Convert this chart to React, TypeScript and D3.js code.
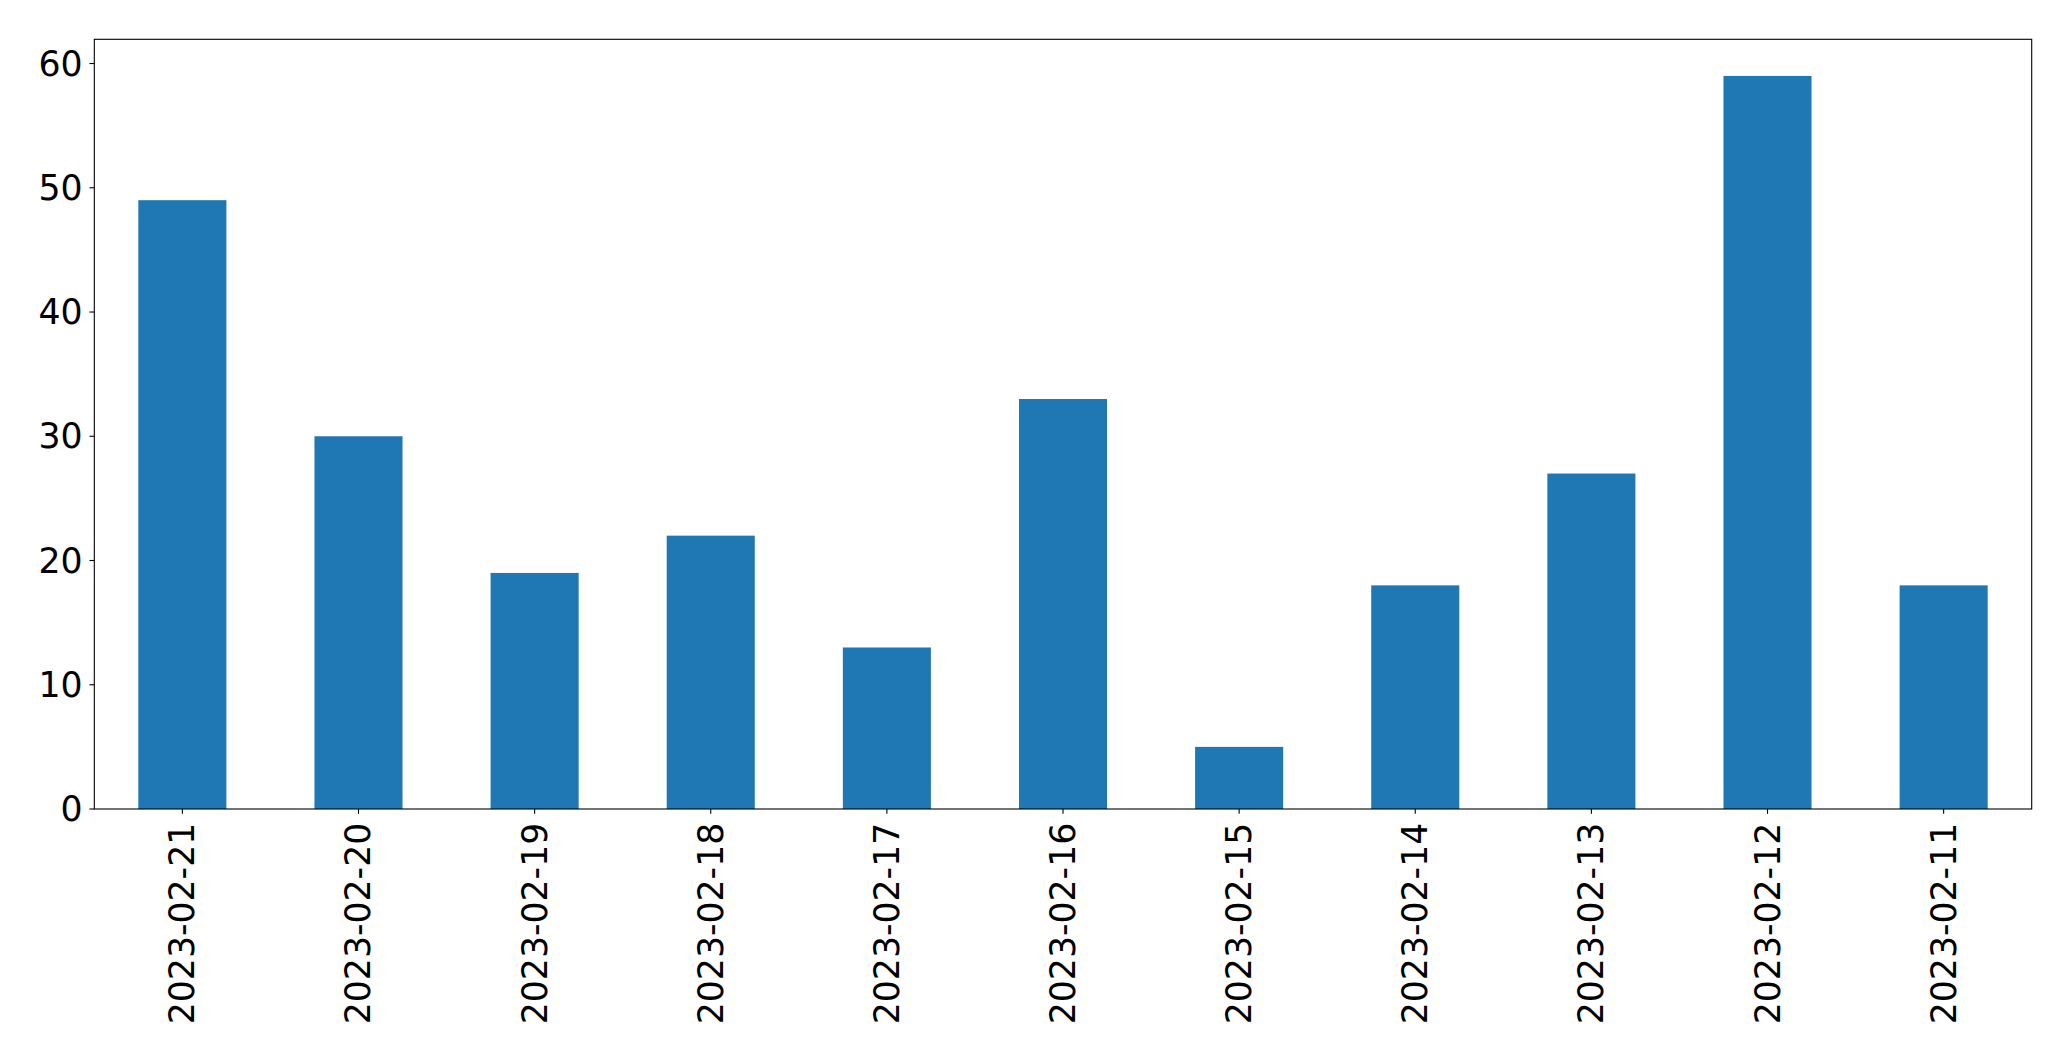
import React from "react";
import * as d3 from "d3";

const categories = [
  "2023-02-21", "2023-02-20", "2023-02-19", "2023-02-18", "2023-02-17",
  "2023-02-16", "2023-02-15", "2023-02-14", "2023-02-13", "2023-02-12", "2023-02-11",
];
const values = [49, 30, 19, 22, 13, 33, 5, 18, 27, 59, 18];
const yTicks = [0, 10, 20, 30, 40, 50, 60];

const W = 2071;
const H = 1061;
const M = { left: 94.3, right: 2031.7, top: 39.3, bottom: 809 };
const FONT = "'DejaVu Sans', sans-serif";
const FS = 34.7;
const TICK = 4.86;
const PAD = 4.86;

export default function App() {
  const x = d3
    .scaleLinear()
    .domain([-0.5, categories.length - 0.5])
    .range([M.left, M.right]);
  const y = d3
    .scaleLinear()
    .domain([0, d3.max(values)! * 1.05])
    .range([M.bottom, M.top]);
  const bw = x(0.25) - x(-0.25);

  return (
    <svg
      width={W}
      height={H}
      style={{ position: "absolute", left: 0, top: 0, background: "#fff" }}
    >
      <rect x={0} y={0} width={W} height={H} fill="#fff" />
      {values.map((v, i) => (
        <rect
          key={i}
          x={x(i) - bw / 2}
          y={y(v)}
          width={bw}
          height={y(0) - y(v)}
          fill="#1f77b4"
        />
      ))}
      <rect
        x={M.left}
        y={M.top}
        width={M.right - M.left}
        height={M.bottom - M.top}
        fill="none"
        stroke="#000"
        strokeWidth={1.1}
      />
      {yTicks.map((t) => (
        <g key={t}>
          <line x1={M.left - TICK} x2={M.left} y1={y(t)} y2={y(t)} stroke="#000" strokeWidth={1.1} />
          <text
            x={M.left - TICK - PAD - 2}
            y={y(t)}
            textAnchor="end"
            dominantBaseline="central"
            fontFamily={FONT}
            fontSize={FS}
            fill="#000"
          >
            {t}
          </text>
        </g>
      ))}
      {categories.map((c, i) => (
        <g key={c}>
          <line x1={x(i)} x2={x(i)} y1={M.bottom} y2={M.bottom + TICK} stroke="#000" strokeWidth={1.1} />
          <text
            transform={`translate(${x(i)},${M.bottom + TICK + PAD + 4}) rotate(-90)`}
            textAnchor="end"
            dominantBaseline="central"
            fontFamily={FONT}
            fontSize={FS}
            fill="#000"
          >
            {c}
          </text>
        </g>
      ))}
    </svg>
  );
}
